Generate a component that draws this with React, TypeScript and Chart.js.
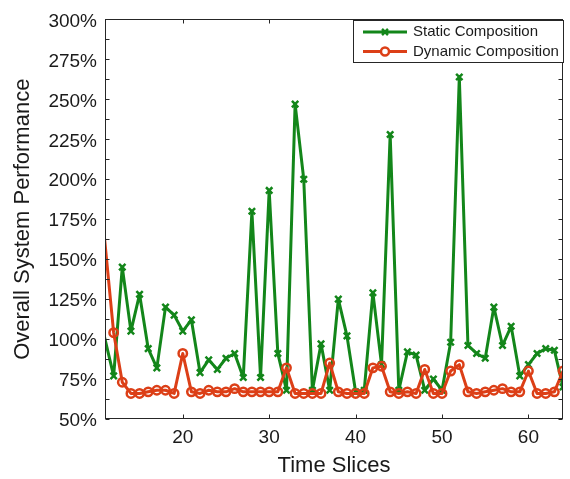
import React, { useEffect, useRef } from "react";
import { Chart, registerables } from "chart.js";

Chart.register(...registerables);

// Time slice index for each sample
const timeSlices = [
  10, 12, 13, 14, 15, 16, 17, 18, 19, 20,
  21, 22, 23, 24, 25, 26, 27, 28, 29, 30,
  31, 32, 33, 34, 35, 36, 37, 38, 39, 40,
  41, 42, 43, 44, 45, 46, 47, 48, 49, 50,
  51, 52, 53, 54, 55, 56, 57, 58, 59, 60,
  61, 62, 63, 64,
];

// Overall system performance (%) per time slice
const staticComposition = [
  123, 77, 145, 105, 128, 94, 82, 120, 115, 105,
  112, 79, 87, 81, 88, 91, 76, 180, 76, 193,
  91, 68, 247, 200, 68, 97, 68, 125, 102, 67,
  68, 129, 84, 228, 68, 92, 90, 68, 75, 68,
  98, 264, 96, 91, 88, 120, 96, 108, 77, 84,
  91, 94, 93, 70,
];

const dynamicComposition = [
  216, 104, 73, 66, 66, 67, 68, 68, 66, 91,
  67, 66, 68, 67, 67, 69, 67, 67, 67, 67,
  67, 82, 66, 66, 66, 66, 85, 67, 66, 66,
  66, 82, 83, 67, 66, 67, 66, 81, 66, 66,
  80, 84, 67, 66, 67, 68, 69, 67, 67, 80,
  66, 66, 67, 80,
];

const seriesNames = ["Static Composition", "Dynamic Composition"];
const xTickValues = [20, 30, 40, 50, 60];
const yTickValues = [50, 75, 100, 125, 150, 175, 200, 225, 250, 275, 300];

const X_MIN = 11;
const X_MAX = 64;
const Y_MIN = 50;
const Y_MAX = 300;

const GREEN = "#13861a";
const RED = "#dc3f17";
const INK = "#262626";
const FONT = "'Liberation Sans', Arial, Helvetica, sans-serif";

// Box, inward tick marks and the legend, drawn over the plot
const axesBoxPlugin = {
  id: "axesBox",
  afterDraw(chart: any) {
    const { ctx, chartArea: a, scales } = chart;
    const xs = scales.x;
    const ys = scales.y;
    ctx.save();
    ctx.strokeStyle = INK;
    ctx.lineWidth = 1;
    const L = Math.round(a.left) + 0.5;
    const R = Math.round(a.right) - 0.5;
    const T = Math.round(a.top) + 0.5;
    const B = Math.round(a.bottom) - 0.5;
    ctx.strokeRect(L, T, R - L, B - T);

    const tick = 4;
    ctx.beginPath();
    // y ticks (major and half steps) on both sides
    for (let i = 0; i < yTickValues.length; i++) {
      const vals = [yTickValues[i]];
      if (i < yTickValues.length - 1) vals.push((yTickValues[i] + yTickValues[i + 1]) / 2);
      for (const v of vals) {
        const py = Math.round(ys.getPixelForValue(v)) + 0.5;
        ctx.moveTo(L, py);
        ctx.lineTo(L + tick, py);
        ctx.moveTo(R, py);
        ctx.lineTo(R - tick, py);
      }
    }
    // x ticks on bottom and top
    for (const v of xTickValues) {
      const px = Math.round(xs.getPixelForValue(v)) + 0.5;
      ctx.moveTo(px, B);
      ctx.lineTo(px, B - tick);
      ctx.moveTo(px, T);
      ctx.lineTo(px, T + tick);
    }
    ctx.stroke();

    // legend
    const boxL = 353.5;
    const boxT = 20.5;
    const boxW = 210;
    const boxH = 42;
    ctx.fillStyle = "#ffffff";
    ctx.fillRect(boxL, boxT, boxW, boxH);
    ctx.strokeStyle = INK;
    ctx.lineWidth = 1;
    ctx.strokeRect(boxL, boxT, boxW, boxH);

    const rows = [
      { name: seriesNames[0], color: GREEN, marker: "x", y: 32 },
      { name: seriesNames[1], color: RED, marker: "o", y: 51.5 },
    ];
    for (const r of rows) {
      ctx.strokeStyle = r.color;
      ctx.lineWidth = 3;
      ctx.beginPath();
      ctx.moveTo(363, r.y);
      ctx.lineTo(407, r.y);
      ctx.stroke();
      const cx = 385;
      if (r.marker === "x") {
        ctx.lineWidth = 2.5;
        ctx.beginPath();
        ctx.moveTo(cx - 3, r.y - 3);
        ctx.lineTo(cx + 3, r.y + 3);
        ctx.moveTo(cx + 3, r.y - 3);
        ctx.lineTo(cx - 3, r.y + 3);
        ctx.stroke();
      } else {
        ctx.lineWidth = 2.5;
        ctx.fillStyle = "#ffffff";
        ctx.beginPath();
        ctx.arc(cx, r.y, 4, 0, Math.PI * 2);
        ctx.fill();
        ctx.stroke();
      }
      ctx.fillStyle = "#1a1a1a";
      ctx.font = `15px ${FONT}`;
      ctx.textAlign = "left";
      ctx.textBaseline = "middle";
      ctx.fillText(r.name, 413, r.y);
    }
    ctx.restore();
  },
};

export default function App() {
  const canvasRef = useRef<HTMLCanvasElement | null>(null);

  useEffect(() => {
    document.body.style.margin = "0";
    const canvas = canvasRef.current;
    if (!canvas) return;

    const toPoints = (values: number[]) =>
      values.map((v, i) => ({ x: timeSlices[i], y: v }));

    const chart = new Chart(canvas, {
      type: "line",
      data: {
        datasets: [
          {
            label: seriesNames[0],
            data: toPoints(staticComposition),
            borderColor: GREEN,
            backgroundColor: GREEN,
            borderWidth: 3,
            borderJoinStyle: "round",
            pointStyle: "crossRot",
            pointRadius: 4.5,
            pointBorderWidth: 2.5,
            pointBorderColor: GREEN,
            tension: 0,
            clip: 0,
            order: 2,
          },
          {
            label: seriesNames[1],
            data: toPoints(dynamicComposition),
            borderColor: RED,
            backgroundColor: "#ffffff",
            borderWidth: 3,
            borderJoinStyle: "round",
            pointStyle: "circle",
            pointRadius: 4.2,
            pointBorderWidth: 2.5,
            pointBorderColor: RED,
            pointBackgroundColor: "rgba(255,255,255,0)",
            tension: 0,
            clip: 0,
            order: 1,
          },
        ],
      },
      options: {
        responsive: false,
        animation: false,
        devicePixelRatio: 1,
        layout: { padding: { top: 12, right: 3, left: 0, bottom: 0 } },
        plugins: {
          legend: { display: false },
          tooltip: { enabled: false },
        },
        scales: {
          x: {
            type: "linear",
            min: X_MIN,
            max: X_MAX,
            afterBuildTicks: (scale: any) => {
              scale.ticks = xTickValues.map((v) => ({ value: v }));
            },
            afterFit: (scale: any) => {
              scale.height = 60;
            },
            grid: { display: false, drawTicks: false },
            border: { display: false },
            ticks: {
              autoSkip: false,
              maxRotation: 0,
              padding: 7,
              color: "#1a1a1a",
              font: { family: FONT, size: 19 },
              callback: (v: any) => String(v),
            },
            title: {
              display: true,
              text: "Time Slices",
              color: "#1a1a1a",
              font: { family: FONT, size: 22 },
              padding: { top: 0, bottom: 0 },
            },
          },
          y: {
            type: "linear",
            min: Y_MIN,
            max: Y_MAX,
            afterBuildTicks: (scale: any) => {
              scale.ticks = yTickValues.map((v) => ({ value: v }));
            },
            afterFit: (scale: any) => {
              scale.width = 105;
            },
            grid: { display: false, drawTicks: false },
            border: { display: false },
            ticks: {
              autoSkip: false,
              padding: 8,
              labelOffset: 2,
              color: "#1a1a1a",
              font: { family: FONT, size: 19 },
              callback: (v: any) => `${v}%`,
            },
            title: {
              display: true,
              text: "Overall System Performance",
              color: "#1a1a1a",
              font: { family: FONT, size: 22 },
              padding: { top: 10, bottom: 0 },
            },
          },
        },
      },
      plugins: [axesBoxPlugin],
    });

    return () => chart.destroy();
  }, []);

  return (
    <div style={{ width: 570, height: 479, background: "#ffffff" }}>
      <canvas ref={canvasRef} width={570} height={479} />
    </div>
  );
}
